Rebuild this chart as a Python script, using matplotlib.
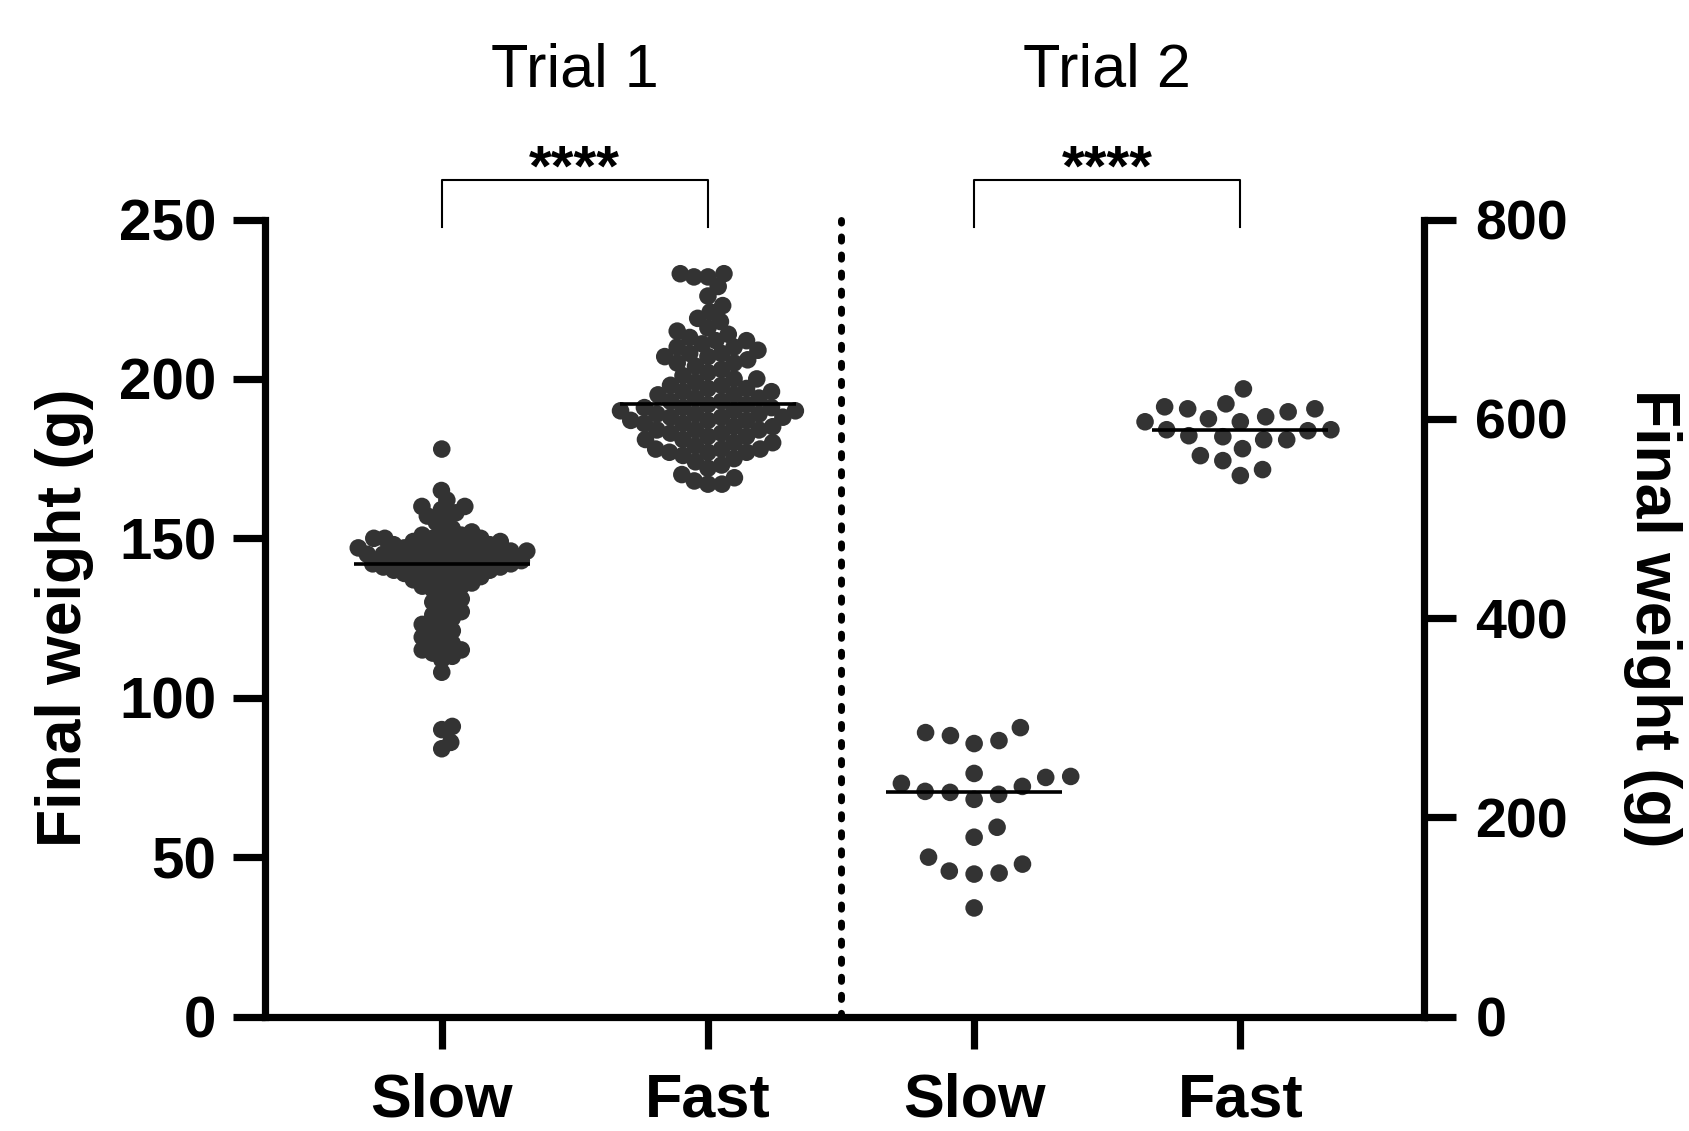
import numpy as np
import matplotlib
matplotlib.use("Agg")
import matplotlib.pyplot as plt

plt.rcParams['font.family'] = ['Liberation Sans', 'DejaVu Sans']

# Trial 1 (left axis, g)
trial1_slow = [178,
               165, 162, 160, 160, 159, 158, 157, 156, 155,
               153, 152, 152, 151, 151,
               150, 150, 150, 150,
               149, 149, 149,
               148, 148, 148, 148,
               147, 147, 147, 147,
               146, 146, 146, 146,
               145, 145, 145, 145, 145,
               144, 144, 144, 144,
               143, 143, 143, 143,
               142, 142, 142, 142,
               141, 141, 141, 141,
               140, 140, 140, 140,
               139, 139, 139, 138, 138, 137, 137, 136, 136, 135, 135,
               134, 133, 132, 131, 130, 129, 128, 127, 126, 125, 124, 123, 122,
               121, 120, 119, 118, 117, 116, 115, 115, 114, 113, 112, 108,
               91, 90, 86, 84]
trial1_fast = [233, 233, 232, 232, 229, 226, 223, 221, 219, 218,
               216, 215, 214, 213, 212, 212, 211, 210, 210, 209,
               208, 208, 207, 207, 206, 205, 205, 204, 203, 202,
               201, 200, 200, 199, 198, 198, 197, 197, 196, 196,
               195, 195, 194, 194, 193, 193, 192, 192, 191, 191,
               191, 190, 190, 190, 189, 189, 189, 188, 188, 188,
               187, 187, 187, 186, 186, 185, 185, 184, 184,
               184, 183, 183, 182, 182, 181, 181, 180, 180, 179,
               178, 178, 178, 177, 177, 177, 176, 175, 174, 173,
               172, 170, 169, 168, 167, 167]

# Trial 2 (right axis, g)
trial2_slow = [290, 274, 285, 282, 277, 244, 231, 241, 240, 234, 223,
               218, 225, 226, 190, 180, 153, 144, 146, 160, 143, 109]
trial2_fast = [612, 597, 579, 630, 610, 582, 607, 589, 563, 543, 615,
               597, 579, 588, 570, 549, 600, 583, 558, 610, 589, 602]

categories = ["Slow", "Fast", "Slow", "Fast"]
trial_names = ["Trial 1", "Trial 2"]
left_ticks = [0, 50, 100, 150, 200, 250]
right_ticks = [0, 200, 400, 600, 800]
stars = "****"

DOT = "#333333"
PX_X = 266.0          # pixels per x unit
XLIM = (-0.664, 3.69)


def swarm(values, px_per_val, diam):
    """simple beeswarm offsets (in pixels)"""
    ys = np.asarray(values, dtype=float) * px_per_val
    xs = np.zeros(len(ys))
    placed = []
    for i in np.argsort(ys):
        y = ys[i]
        near = [(px, py) for px, py in placed if abs(py - y) < diam]
        cands = [0.0]
        for px, py in near:
            dx = np.sqrt(diam ** 2 - (py - y) ** 2)
            cands += [px + dx, px - dx]
        cands.sort(key=abs)
        for c in cands:
            if all((c - px) ** 2 + (y - py) ** 2 >= diam ** 2 - 1e-6 for px, py in near):
                xs[i] = c
                break
        placed.append((xs[i], y))
    return xs


fig = plt.figure(figsize=(16.89, 11.31), dpi=100)
ax = fig.add_axes([0.1569, 0.1012, 0.6862, 0.7047])
ax2 = ax.twinx()

ax.set_xlim(*XLIM)
ax.set_ylim(0, 250)
ax2.set_ylim(0, 800)

px_y1 = 797 / 250
px_y2 = 797 / 800

groups = [(ax, trial1_slow, 0, px_y1, 11.0),
          (ax, trial1_fast, 1, px_y1, 14.0),
          (ax2, trial2_slow, 2, px_y2, 25),
          (ax2, trial2_fast, 3, px_y2, 23)]
for a, vals, xc, pxy, d in groups:
    offs = swarm(vals, pxy, d) / PX_X
    a.scatter(xc + offs, vals, s=160, color=DOT, edgecolors='none', zorder=3, clip_on=False)
    m = np.median(vals)
    a.plot([xc - 0.33, xc + 0.33], [m, m], color='black', lw=2.6, zorder=4,
           solid_capstyle='butt')

# divider
ax.plot([1.5, 1.5], [0, 250], color='black', lw=5, linestyle=(0, (0.6, 2.0)),
        dash_capstyle='round', clip_on=False, zorder=2)

# spines / ticks
for a in (ax, ax2):
    a.spines['top'].set_visible(False)
    for s in ('left', 'right', 'bottom'):
        a.spines[s].set_linewidth(5.2)
ax.spines['right'].set_visible(False)
ax2.spines['left'].set_visible(False)
ax2.spines['bottom'].set_visible(False)

ax.set_xticks(range(len(categories)))
ax.set_xticklabels(categories, fontsize=44, fontweight='bold')
ax.set_yticks(left_ticks)
ax.set_yticklabels([str(t) for t in left_ticks], fontsize=42, fontweight='bold')
ax2.set_yticks(right_ticks)
ax2.set_yticklabels([str(t) for t in right_ticks], fontsize=40, fontweight='bold')
ax.tick_params(axis='both', length=23, width=5.2, direction='out')
ax.tick_params(axis='x', pad=17)
ax.tick_params(axis='y', pad=12)
ax2.tick_params(axis='y', length=23, width=5.2, direction='out', pad=14)

ax.set_ylabel("Final weight (g)", fontsize=45, fontweight='bold', labelpad=18)
ax2.set_ylabel("Final weight (g)", fontsize=45, fontweight='bold', rotation=270,
               labelpad=82)

# titles and significance brackets
for i, name in enumerate(trial_names):
    xc = 2 * i + 0.5
    ax.text(xc, 296.5, name, fontsize=44, ha='center', va='center', clip_on=False)
    ax.plot([2 * i, 2 * i, 2 * i + 1, 2 * i + 1], [247.5, 262.5, 262.5, 247.5],
            color='black', lw=1.5, clip_on=False)
    ax.text(xc, 257, stars, fontsize=42, fontweight='bold', ha='center', va='bottom',
            clip_on=False)

fig.savefig("out.png", dpi=100, facecolor='white')
